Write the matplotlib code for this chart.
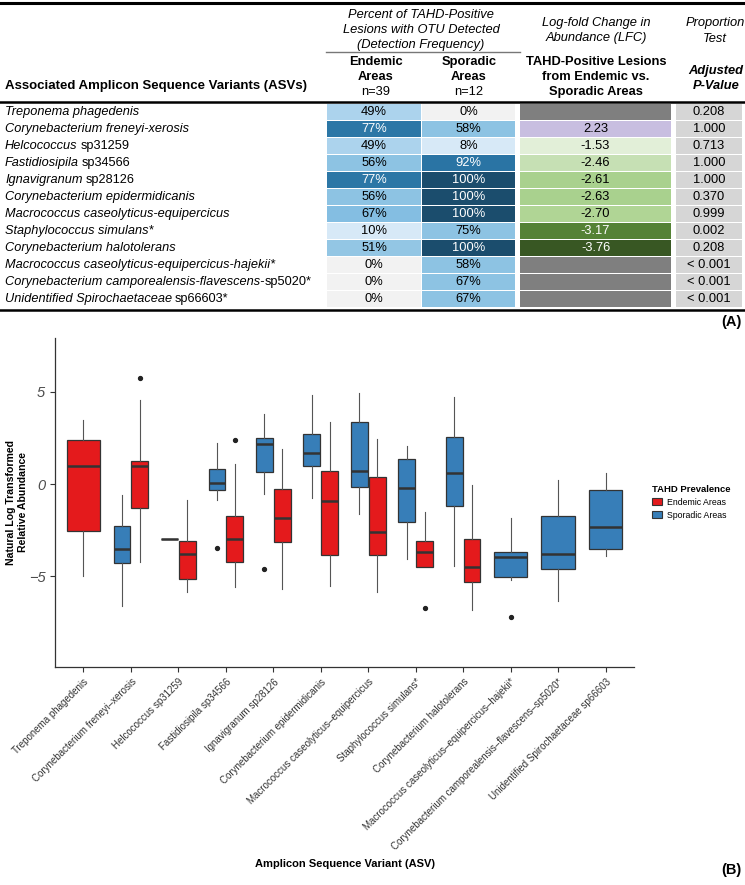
import matplotlib
matplotlib.use('Agg')
import matplotlib.pyplot as plt
from matplotlib.patches import Rectangle, Patch
from matplotlib import font_manager, colors as mcolors

names = {f.name for f in font_manager.fontManager.ttflist}
FONT = 'Liberation Sans' if 'Liberation Sans' in names else 'DejaVu Sans'
plt.rcParams['font.family'] = [FONT, 'DejaVu Sans']

# ---------------- table data (A) ----------------
asv_segments = [
    [("Treponema phagedenis", True)],
    [("Corynebacterium freneyi-xerosis", True)],
    [("Helcococcus", True), ("sp31259", False)],
    [("Fastidiosipila", True), ("sp34566", False)],
    [("Ignavigranum", True), ("sp28126", False)],
    [("Corynebacterium epidermidicanis", True)],
    [("Macrococcus caseolyticus-equipercicus", True)],
    [("Staphylococcus simulans*", True)],
    [("Corynebacterium halotolerans", True)],
    [("Macrococcus caseolyticus-equipercicus-hajekii*", True)],
    [("Corynebacterium camporealensis-flavescens-", True), ("sp5020*", False)],
    [("Unidentified Spirochaetaceae", True), ("sp66603*", False)],
]
endemic_pct = [49, 77, 49, 56, 77, 56, 67, 10, 51, 0, 0, 0]
sporadic_pct = [0, 58, 8, 92, 100, 100, 100, 75, 100, 58, 67, 67]
lfc = [None, 2.23, -1.53, -2.46, -2.61, -2.63, -2.70, -3.17, -3.76, None, None, None]
p_adj = ["0.208", "1.000", "0.713", "1.000", "1.000", "0.370", "0.999",
         "0.002", "0.208", "< 0.001", "< 0.001", "< 0.001"]

endemic_colors = ['#acd3ed', '#2c77a6', '#acd3ed', '#8dc3e3', '#2c77a6', '#8dc3e3',
                  '#84bee2', '#d7e9f7', '#93c6e4', '#f2f2f2', '#f2f2f2', '#f2f2f2']
sporadic_colors = ['#f2f2f2', '#8dc3e3', '#d7e9f7', '#2a74a4', '#1b4d6d', '#1b4d6d',
                   '#1b4d6d', '#8dc3e3', '#1b4d6d', '#8dc3e3', '#8dc3e3', '#8dc3e3']
lfc_colors = ['#7f7f7f', '#c8bee0', '#e2efd8', '#c6e0b4', '#a9d18e', '#a9d18e',
              '#b0d595', '#548235', '#385723', '#7f7f7f', '#7f7f7f', '#7f7f7f']
p_color = '#d6d6d6'

# ---------------- boxplot data (B) ----------------
tick_labels = [
    "Treponema phagedenis",
    "Corynebacterium freneyi\u2013xerosis",
    "Helcococcus sp31259",
    "Fastidiosipila sp34566",
    "Ignavigranum sp28126",
    "Corynebacterium epidermidicanis",
    "Macrococcus caseolyticus\u2013equipercicus",
    "Staphylococcus simulans*",
    "Corynebacterium halotolerans",
    "Macrococcus caseolyticus\u2013equipercicus\u2013hajekii*",
    "Corynebacterium camporealensis\u2013flavescens\u2013sp5020*",
    "Unidentified Spirochaetaceae sp66603",
]
end_whishi = [3.44, 4.52, -0.85, 1.07, 1.90, 3.35, 2.44, -1.50, -0.04, None, None, None]
end_q3 = [2.40, 1.23, -3.11, -1.72, -0.25, 0.72, 0.38, -3.07, -2.97, None, None, None]
end_med = [0.96, 0.96, -3.76, -2.97, -1.84, -0.90, -2.62, -3.69, -4.47, None, None, None]
end_q1 = [-2.53, -1.32, -5.12, -4.20, -3.13, -3.82, -3.82, -4.48, -5.30, None, None, None]
end_whislo = [-4.97, -4.23, -5.82, -5.55, -5.66, -5.53, -5.82, -4.48, -6.84, None, None, None]
end_fliers = [[], [5.73], [], [2.37], [], [], [], [-6.69], [], [], [], []]

spo_whishi = [None, -0.61, -2.97, 2.21, 3.80, 4.79, 4.94, 2.03, 4.72, -1.86, 0.22, 0.61]
spo_q3 = [None, -2.26, -2.97, 0.81, 2.51, 2.71, 3.38, 1.36, 2.53, -3.67, -1.74, -0.31]
spo_med = [None, -3.53, -2.97, 0.04, 2.17, 1.68, 0.69, -0.20, 0.58, -3.96, -3.78, -2.35]
spo_q1 = [None, -4.30, -2.97, -0.33, 0.65, 0.99, -0.18, -2.08, -1.19, -5.03, -4.59, -3.54]
spo_whislo = [None, -6.58, -2.97, -0.89, -0.56, -0.76, -1.63, -4.03, -4.45, -5.19, -6.31, -3.87]
spo_fliers = [[], [], [], [-3.44], [-4.61], [], [], [], [], [-7.18], [], []]

RED = '#e41a1c'
BLUE = '#377eb8'

W, H = 745, 885
fig = plt.figure(figsize=(W / 100, H / 100), dpi=100)

# table drawn in pixel-like coordinates
tab = fig.add_axes([0, 0, 1, 1])
tab.set_xlim(0, W)
tab.set_ylim(H, 0)
tab.axis('off')

FS = 9.3
cols = {'end': (327, 421), 'spo': (422, 515), 'lfc': (520, 671), 'p': (676, 742)}
row0, pitch, rh = 104, 17.0, 15.5


def txt_color(c):
    r, g, b = mcolors.to_rgb(c)
    return 'white' if 0.299 * r + 0.587 * g + 0.114 * b < 0.45 else 'black'


# header
tab.plot([0, W], [2.5, 2.5], color='black', lw=2.2)
tab.plot([0, W], [101.5, 101.5], color='black', lw=1.8)
tab.plot([0, W], [310, 310], color='black', lw=1.8)
tab.plot([326, 520], [52, 52], color='#777777', lw=1.0)

for k, s in enumerate(["Percent of TAHD-Positive", "Lesions with OTU Detected", "(Detection Frequency)"]):
    tab.text(421, 15 + k * 15, s, ha='center', va='center', fontsize=FS, style='italic')
for k, s in enumerate(["Log-fold Change in", "Abundance (LFC)"]):
    tab.text(596, 23 + k * 15.5, s, ha='center', va='center', fontsize=FS, style='italic')
for k, s in enumerate(["Proportion", "Test"]):
    tab.text(715, 23 + k * 15.5, s, ha='center', va='center', fontsize=FS, style='italic')

for cx, lines in [(376, ["Endemic", "Areas", "n=39"]), (469, ["Sporadic", "Areas", "n=12"])]:
    tab.text(cx, 62, lines[0], ha='center', va='center', fontsize=FS, weight='bold')
    tab.text(cx, 77, lines[1], ha='center', va='center', fontsize=FS, weight='bold')
    tab.text(cx, 92, lines[2], ha='center', va='center', fontsize=FS)
for k, s in enumerate(["TAHD-Positive Lesions", "from Endemic vs.", "Sporadic Areas"]):
    tab.text(596, 62 + k * 15, s, ha='center', va='center', fontsize=FS, weight='bold')
tab.text(716, 71, "Adjusted", ha='center', va='center', fontsize=FS, weight='bold', style='italic')
tab.text(716, 86, "P-Value", ha='center', va='center', fontsize=FS, weight='bold', style='italic')
tab.text(5, 86, "Associated Amplicon Sequence Variants (ASVs)", ha='left', va='center',
         fontsize=FS + 0.2, weight='bold')

renderer = fig.canvas.get_renderer()
inv = tab.transData.inverted()

for i in range(len(asv_segments)):
    top = row0 + i * pitch
    yc = top + rh / 2
    ybase = yc + 3.7
    x = 5
    for seg, ital in asv_segments[i]:
        t = tab.text(x, ybase, seg, ha='left', va='baseline', fontsize=FS - 0.1,
                     style='italic' if ital else 'normal')
        bb = t.get_window_extent(renderer)
        x = inv.transform((bb.x1, bb.y0))[0] + (3.0 if ital and not seg.endswith('-') else 0.6)

    cells = [('end', endemic_colors[i], f"{endemic_pct[i]}%"),
             ('spo', sporadic_colors[i], f"{sporadic_pct[i]}%"),
             ('lfc', lfc_colors[i], "" if lfc[i] is None else f"{lfc[i]:.2f}"),
             ('p', p_color, p_adj[i])]
    for key, c, s in cells:
        x0, x1 = cols[key]
        tab.add_patch(Rectangle((x0, top), x1 - x0, rh, facecolor=c, edgecolor='none'))
        if s:
            tab.text((x0 + x1) / 2, yc, s, ha='center', va='center', fontsize=FS,
                     color=txt_color(c))

tab.text(742, 322, "(A)", ha='right', va='center', fontsize=10.5, weight='bold')
tab.text(742, 870, "(B)", ha='right', va='center', fontsize=10.5, weight='bold')

# ---------------- boxplot ----------------
ax = fig.add_axes([55 / W, 1 - 667 / H, (634 - 55) / W, (667 - 338) / H])
ax.set_zorder(2)
ax.patch.set_alpha(0)


def build(whislo, q1, med, q3, whishi, fliers):
    out = []
    for i in range(len(med)):
        if med[i] is None:
            out.append(None)
        else:
            out.append(dict(whislo=whislo[i], q1=q1[i], med=med[i], q3=q3[i],
                            whishi=whishi[i], fliers=fliers[i]))
    return out


end_stats = build(end_whislo, end_q1, end_med, end_q3, end_whishi, end_fliers)
spo_stats = build(spo_whislo, spo_q1, spo_med, spo_q3, spo_whishi, spo_fliers)

for stats, color, side in [(spo_stats, BLUE, -1), (end_stats, RED, 1)]:
    pos, wid, st = [], [], []
    for i, s in enumerate(stats):
        if s is None:
            continue
        other = end_stats[i] if side == -1 else spo_stats[i]
        if other is None:
            pos.append(i + 1)
            wid.append(0.7)
        else:
            pos.append(i + 1 + side * 0.1875)
            wid.append(0.355)
        st.append(s)
    ax.bxp(st, positions=pos, widths=wid, patch_artist=True, showcaps=False,
           boxprops=dict(facecolor=color, edgecolor='#333333', linewidth=0.9),
           medianprops=dict(color='#333333', linewidth=1.8),
           whiskerprops=dict(color='#555555', linewidth=0.8),
           flierprops=dict(marker='o', markersize=2.8, markerfacecolor='#222222',
                           markeredgecolor='#222222'),
           manage_ticks=False)

ax.set_xlim(0.4, 12.6)
ax.set_ylim(-9.9, 7.9)
ax.set_xticks(range(1, 13))
ax.set_xticklabels(tick_labels, rotation=45, ha='right', rotation_mode='anchor',
                   fontsize=7, color='#333333')
ax.set_yticks([-5, 0, 5])
ax.set_yticklabels(['\u22125', '0', '5'], fontsize=10.5, style='italic', color='#4d4d4d')
for side in ['top', 'right']:
    ax.spines[side].set_visible(False)
for side in ['left', 'bottom']:
    ax.spines[side].set_color('#333333')
    ax.spines[side].set_linewidth(0.9)
ax.tick_params(axis='both', length=3.5, color='#333333', width=0.8)
ax.set_ylabel("Natural Log Transformed\nRelative Abundance", fontsize=7.6, weight='bold')
ax.yaxis.set_label_coords(-0.047, 0.5)
fig.text(345 / W, 1 - 864 / H, "Amplicon Sequence Variant (ASV)", ha='center', va='center',
         fontsize=8, weight='bold')

handles = [Patch(facecolor=RED, edgecolor='#333333', lw=0.8, label='Endemic Areas'),
           Patch(facecolor=BLUE, edgecolor='#333333', lw=0.8, label='Sporadic Areas')]
leg = fig.legend(handles=handles, title='TAHD Prevalence', loc='upper left',
                 bbox_to_anchor=(644 / W, 1 - 477 / H), frameon=False, fontsize=6.3,
                 title_fontproperties={'weight': 'bold', 'size': 6.8},
                 handlelength=1.1, handleheight=0.9, handletextpad=0.6,
                 labelspacing=0.45, alignment='left')

fig.savefig('out.png', dpi=100)
